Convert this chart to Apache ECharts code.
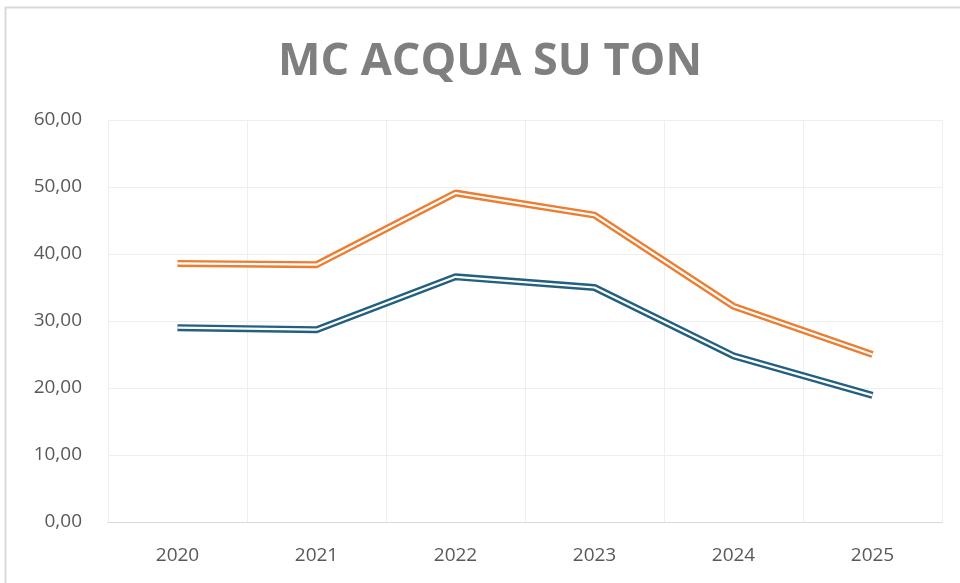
<!DOCTYPE html>
<html>
<head>
<meta charset="utf-8">
<script src="https://cdn.jsdelivr.net/npm/echarts@6/dist/echarts.min.js"></script>
<style>
  html, body { margin: 0; padding: 0; background: #fff; }
  #chart { width: 960px; height: 583px; }
</style>
</head>
<body>
<div id="chart"></div>
<script>
var years = ['2020', '2021', '2022', '2023', '2024', '2025']
var seriesOrange = [38.6, 38.4, 49.1, 45.8, 32.2, 25.0]
var seriesBlue = [29.0, 28.7, 36.6, 35.0, 24.8, 18.9]

var myChart = echarts.init(document.getElementById('chart'))

// linea doppia stile Excel: tratto spesso colorato + tratto bianco sopra
function doubleLine (name, data, color) {
  return [
    {
      name: name,
      type: 'line',
      data: data,
      symbol: 'none',
      z: 2,
      lineStyle: { color: color, width: 7 }
    },
    {
      name: name,
      type: 'line',
      data: data,
      symbol: 'none',
      z: 3,
      silent: true,
      lineStyle: { color: '#ffffff', width: 2.2 }
    }
  ]
}

var option = {
  animation: false,
  backgroundColor: '#ffffff',
  title: {
    text: 'MC ACQUA SU TON',
    left: 485,
    top: 35,
    textAlign: 'center',
    textStyle: {
      fontFamily: 'Open Sans',
      fontWeight: 'bold',
      fontSize: 45,
      color: '#7f7f7f'
    }
  },
  graphic: [
    {
      type: 'rect',
      shape: { x: 5.5, y: 7.5, width: 1000, height: 1000 },
      style: { fill: 'none', stroke: '#d9d9d9', lineWidth: 2 },
      silent: true
    }
  ],
  grid: {
    left: 108,
    right: 18,
    top: 120,
    bottom: 61,
    containLabel: false
  },
  xAxis: {
    type: 'category',
    data: years,
    boundaryGap: true,
    axisLine: { lineStyle: { color: '#d9d9d9', width: 1 } },
    axisTick: { show: false },
    axisLabel: {
      margin: 24,
      fontFamily: 'Open Sans',
      fontSize: 19,
      color: '#595959'
    },
    splitLine: { show: true, lineStyle: { color: '#eeeeee', width: 1 } }
  },
  yAxis: {
    type: 'value',
    min: 0,
    max: 60,
    interval: 10,
    axisLine: { show: false },
    axisTick: { show: false },
    axisLabel: {
      margin: 26,
      fontFamily: 'Open Sans',
      fontSize: 19,
      color: '#595959',
      formatter: function (v) { return v.toFixed(2).replace('.', ',') }
    },
    splitLine: { lineStyle: { color: '#eeeeee', width: 1 } }
  },
  series: [].concat(
    doubleLine('Serie 1', seriesOrange, '#ed7d31'),
    doubleLine('Serie 2', seriesBlue, '#23607f')
  )
}

myChart.setOption(option)
</script>
</body>
</html>
